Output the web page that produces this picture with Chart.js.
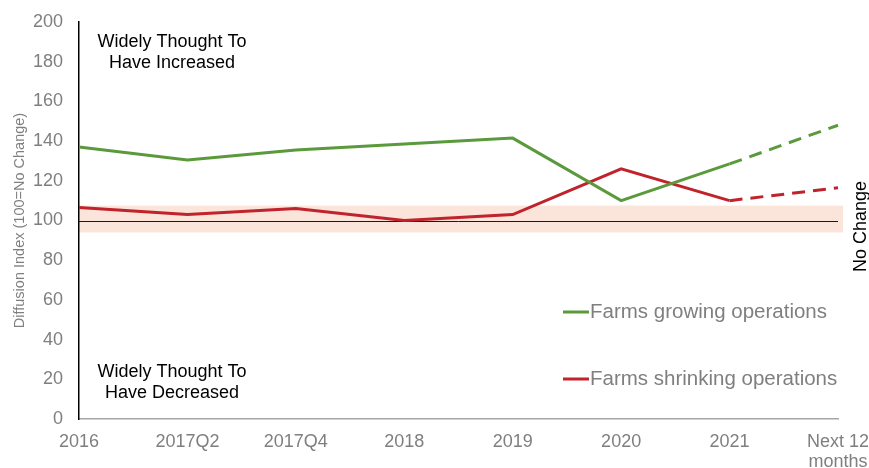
<!DOCTYPE html>
<html>
<head>
<meta charset="utf-8">
<script src="https://cdn.jsdelivr.net/npm/chart.js@4/dist/chart.umd.min.js"></script>
<style>
  html, body { margin: 0; padding: 0; background: #fff; }
  #wrap { width: 869px; height: 468px; position: relative; }
</style>
</head>
<body>
<div id="wrap"><canvas id="farmChart"></canvas></div>
<script>
const periods = ['2016', '2017Q2', '2017Q4', '2018', '2019', '2020', '2021', ['Next 12', 'months']];
const growing = [137, 130.5, 135.5, 138.5, 141.5, 110, 128.5, 148];
const shrinking = [106.5, 103, 106, 100, 103, 126, 110, 116.5];
const seriesNames = ['Farms growing operations', 'Farms shrinking operations'];
const noChangeBand = [94, 107.5];
const noChangeLevel = 100;

const GREEN = '#5b9a3c';
const RED = '#c0232b';
const GREY = '#7f7f7f';
const FONT = '"Liberation Sans", Arial, sans-serif';

// last segment (current year -> outlook) is drawn dashed
const forecastDash = (ctx) => ctx.p1DataIndex === periods.length - 1 ? [13, 8] : undefined;

// keep the plot box fixed: no extra room for overhanging tick labels
function clearLabelPadding(scale) {
  scale.paddingLeft = 0;
  scale.paddingRight = 0;
  scale.paddingTop = 0;
  scale.paddingBottom = 0;
}

// shaded "no change" band and the 100 reference line, under axes and series
const bandPlugin = {
  id: 'noChangeBand',
  beforeDraw(chart) {
    const { ctx, chartArea, scales } = chart;
    const yTop = scales.y.getPixelForValue(noChangeBand[1]);
    const yBot = scales.y.getPixelForValue(noChangeBand[0]);
    ctx.save();
    ctx.fillStyle = '#fbe4da';
    ctx.fillRect(chartArea.left, yTop, chartArea.right - chartArea.left + 5, yBot - yTop);
    const y100 = Math.round(scales.y.getPixelForValue(noChangeLevel)) + 0.5;
    ctx.strokeStyle = '#1a1a1a';
    ctx.lineWidth = 1;
    ctx.beginPath();
    ctx.moveTo(chartArea.left, y100);
    ctx.lineTo(chartArea.right, y100);
    ctx.stroke();
    ctx.restore();
  }
};

// annotations, side label and the in-plot key
const labelsPlugin = {
  id: 'chartLabels',
  afterDraw(chart) {
    const { ctx, scales } = chart;
    ctx.save();
    ctx.fillStyle = '#000';
    ctx.font = '18px ' + FONT;
    ctx.textAlign = 'center';
    ctx.textBaseline = 'middle';
    ctx.fillText('Widely Thought To', 172, 42);
    ctx.fillText('Have Increased', 172, 63);
    ctx.fillText('Widely Thought To', 172, 372);
    ctx.fillText('Have Decreased', 172, 393);

    ctx.save();
    ctx.translate(861, scales.y.getPixelForValue(noChangeLevel) + 6);
    ctx.rotate(-Math.PI / 2);
    ctx.fillText('No Change', 0, 0);
    ctx.restore();

    // key
    const keyRows = [[GREEN, 312], [RED, 379]];
    ctx.font = '20.5px ' + FONT;
    ctx.textAlign = 'left';
    keyRows.forEach(([colour, y], i) => {
      ctx.strokeStyle = colour;
      ctx.lineWidth = 3;
      ctx.beginPath();
      ctx.moveTo(563, y);
      ctx.lineTo(589, y);
      ctx.stroke();
      ctx.fillStyle = GREY;
      ctx.fillText(seriesNames[i], 590, y);
    });
    ctx.restore();
  }
};

new Chart(document.getElementById('farmChart'), {
  type: 'line',
  data: {
    labels: periods,
    datasets: [
      {
        label: seriesNames[0],
        data: growing,
        borderColor: GREEN,
        borderWidth: 3,
        pointRadius: 0,
        tension: 0,
        segment: { borderDash: forecastDash }
      },
      {
        label: seriesNames[1],
        data: shrinking,
        borderColor: RED,
        borderWidth: 3,
        pointRadius: 0,
        tension: 0,
        segment: { borderDash: forecastDash }
      }
    ]
  },
  options: {
    responsive: true,
    maintainAspectRatio: false,
    animation: false,
    layout: {
      padding: { left: 0, right: 31, top: 22, bottom: 0 }
    },
    plugins: {
      legend: { display: false },
      tooltip: { enabled: false }
    },
    scales: {
      x: {
        offset: false,
        grid: { display: false, drawTicks: false },
        border: { color: '#a6a6a6', width: 1.5 },
        ticks: {
          color: GREY,
          font: { family: FONT, size: 18, lineHeight: 1.1 },
          padding: 13,
          maxRotation: 0,
          autoSkip: false
        },
        afterFit: (scale) => {
          scale.height = 49;
          clearLabelPadding(scale);
        }
      },
      y: {
        min: 0,
        max: 200,
        grid: { display: false, drawTicks: false },
        border: { color: '#000', width: 1.5 },
        ticks: {
          stepSize: 20,
          color: GREY,
          font: { family: FONT, size: 18 },
          padding: 16
        },
        title: {
          display: true,
          text: 'Diffusion Index (100=No Change)',
          color: GREY,
          font: { family: FONT, size: 14.5 },
          padding: { top: 11, bottom: 0 }
        },
        afterFit: (scale) => {
          scale.width = 79;
          clearLabelPadding(scale);
        }
      }
    }
  },
  plugins: [bandPlugin, labelsPlugin]
});
</script>
</body>
</html>
